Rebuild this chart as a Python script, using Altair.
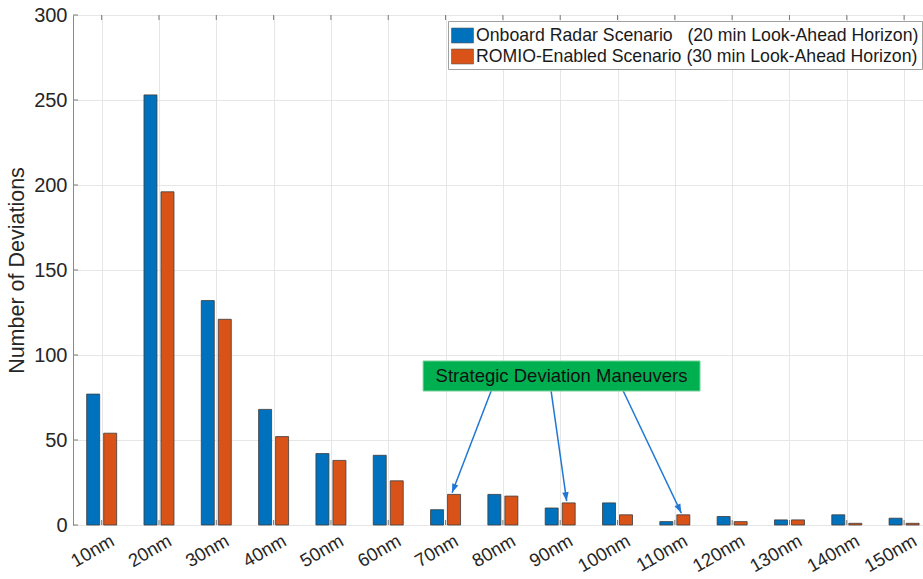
import math
import altair as alt
import pandas as pd

# ---- data -------------------------------------------------------------
categories = ["10nm", "20nm", "30nm", "40nm", "50nm", "60nm", "70nm", "80nm",
              "90nm", "100nm", "110nm", "120nm", "130nm", "140nm", "150nm"]
onboard = [77, 253, 132, 68, 42, 41, 9, 18, 10, 13, 2, 5, 3, 6, 4]
romio = [54, 196, 121, 52, 38, 26, 18, 17, 13, 6, 6, 2, 3, 1, 1]

series_names = [
    "Onboard Radar Scenario\u00a0\u00a0\u00a0(20 min Look-Ahead Horizon)",
    "ROMIO-Enabled Scenario (30 min Look-Ahead Horizon)",
]
series_colors = ["#0072BD", "#D95319"]
y_ticks = [0, 50, 100, 150, 200, 250, 300]

annotation_text = "Strategic Deviation Maneuvers"
arrow_targets = ["70nm", "90nm", "110nm"]

# ---- layout -----------------------------------------------------------
W, H = 850, 510
X_DOM = [0.5, 15.33]
Y_DOM = [0, 300]
PX_X = W / (X_DOM[1] - X_DOM[0])   # pixels per category step
PX_Y = H / (Y_DOM[1] - Y_DOM[0])   # pixels per count
FONT = "Liberation Sans"
TXT = "#262626"

BAR_OFFSET = 8.5 / PX_X
BAR_HALF = 6.5 / PX_X

rows = []
for s, (name, vals) in enumerate(zip(series_names, [onboard, romio])):
    off = -BAR_OFFSET if s == 0 else BAR_OFFSET
    for i, (cat, v) in enumerate(zip(categories, vals)):
        pos = i + 1
        rows.append({"series": name, "category": cat, "value": v,
                     "x": pos + off - BAR_HALF, "x2": pos + off + BAR_HALF})
bars_df = pd.DataFrame(rows)

x_scale = alt.Scale(domain=X_DOM, nice=False, zero=False)
y_scale = alt.Scale(domain=Y_DOM, nice=False)
label_expr = "[" + ",".join(f"'{c}'" for c in categories) + "][datum.value - 1]"

x_axis = alt.Axis(
    values=list(range(1, len(categories) + 1)), labelExpr=label_expr,
    labelAngle=330, labelAlign="right", labelBaseline="top",
    labelFontSize=18.5, labelFont=FONT, labelColor=TXT, labelPadding=6,
    labelOffset=6, labelOverlap=False, labelBound=False, labelFlush=False,
    grid=True, gridColor="#e6e6e6", ticks=False, domain=False, title=None)
y_axis = alt.Axis(
    values=y_ticks, labelFontSize=20, labelFont=FONT, labelColor=TXT,
    labelPadding=6, grid=True, gridColor="#e6e6e6", ticks=False,
    domain=False, title="Number of Deviations", titleFontSize=21.5,
    titleFont=FONT, titleFontWeight="normal", titleColor=TXT, titlePadding=5)


def X(field):
    return alt.X(field, scale=x_scale, axis=x_axis)


def Y(field):
    return alt.Y(field, scale=y_scale, axis=y_axis)


swatch = "M-1,-0.68H1V0.68H-1Z"

bars = alt.Chart(bars_df).mark_bar(stroke="#3c3c3c", strokeWidth=0.8).encode(
    x=X("x:Q"), x2="x2:Q",
    y=Y("value:Q"), y2=alt.datum(0),
    color=alt.Color("series:N", scale=alt.Scale(domain=series_names, range=series_colors),
                    legend=alt.Legend(
                        title=None, orient="none", legendX=375, legendY=6,
                        direction="vertical", fillColor="white",
                        strokeColor="#a0a0a0", padding=3, rowPadding=0,
                        labelFontSize=17.7, labelFont=FONT, labelColor="#1a1a1a",
                        labelLimit=0, labelOffset=2,
                        symbolType=swatch, symbolSize=484,
                        symbolStrokeColor="#555555", symbolStrokeWidth=0.6,
                        symbolOpacity=1)),
)

# inward tick marks on the box edges
tick_len_x = 5 / PX_Y
tick_len_y = 5 / PX_X
xpos = list(range(1, len(categories) + 1))
tick_rows = ([{"x": p, "x2": p, "y": Y_DOM[0], "y2": Y_DOM[0] + tick_len_x} for p in xpos]
             + [{"x": p, "x2": p, "y": Y_DOM[1], "y2": Y_DOM[1] - tick_len_x} for p in xpos]
             + [{"x": X_DOM[0], "x2": X_DOM[0] + tick_len_y, "y": t, "y2": t} for t in y_ticks])
ticks = alt.Chart(pd.DataFrame(tick_rows)).mark_rule(color="#7a7a7a", strokeWidth=1).encode(
    x=X("x:Q"), x2="x2:Q", y=Y("y:Q"), y2="y2:Q")

# ---- annotation box and arrows ------------------------------------------
box_x0, box_x1 = 6.608, 11.44
box_y0, box_y1 = 78.8, 96.5
box_df = pd.DataFrame([{"x": box_x0, "x2": box_x1, "y": box_y0, "y2": box_y1,
                        "xc": (box_x0 + box_x1) / 2, "yc": (box_y0 + box_y1) / 2,
                        "label": annotation_text}])
box = alt.Chart(box_df).mark_rect(fill="#00B050", stroke="#7fd39f", strokeWidth=1).encode(
    x=X("x:Q"), x2="x2:Q", y=Y("y:Q"), y2="y2:Q")
box_text = alt.Chart(box_df).mark_text(fontSize=18.5, font=FONT, color="#111111",
                                       baseline="middle", align="center").encode(
    x=X("xc:Q"), y=Y("yc:Q"), text="label:N")

arrow_starts = [7.795, 8.842, 10.10]
arrow_rows = []
for sx, cat in zip(arrow_starts, arrow_targets):
    i = categories.index(cat)
    tx = i + 1 + BAR_OFFSET - 2 / PX_X
    ty = romio[i] + 1.0
    dx = (tx - sx) * PX_X
    dy = (box_y0 - ty) * PX_Y
    ang = math.degrees(math.atan2(dx, -dy)) % 360
    arrow_rows.append({"x": sx, "y": box_y0, "x2": tx, "y2": ty, "angle": ang})
arrow_df = pd.DataFrame(arrow_rows)

arrow_color = "#1f78d4"
arrow_lines = alt.Chart(arrow_df).mark_rule(color=arrow_color, strokeWidth=1.5).encode(
    x=X("x:Q"), x2="x2:Q", y=Y("y:Q"), y2="y2:Q")
arrow_heads = alt.Chart(arrow_df).mark_point(
    shape="M0,0L-0.36,1L0.36,1Z", filled=True, size=324, color=arrow_color, opacity=1
).encode(
    x=X("x2:Q"), y=Y("y2:Q"),
    angle=alt.Angle("angle:Q", scale=None))

chart = alt.layer(bars, ticks, arrow_lines, arrow_heads, box, box_text).properties(
    width=W, height=H,
    autosize=alt.AutoSizeParams(type="none"),
    padding={"left": 73, "top": 15, "right": 0, "bottom": 54},
    background="white",
).configure_view(stroke="#8a8a8a", strokeWidth=1)

chart.save("out.html", embed_options={"renderer": "svg", "actions": False})
